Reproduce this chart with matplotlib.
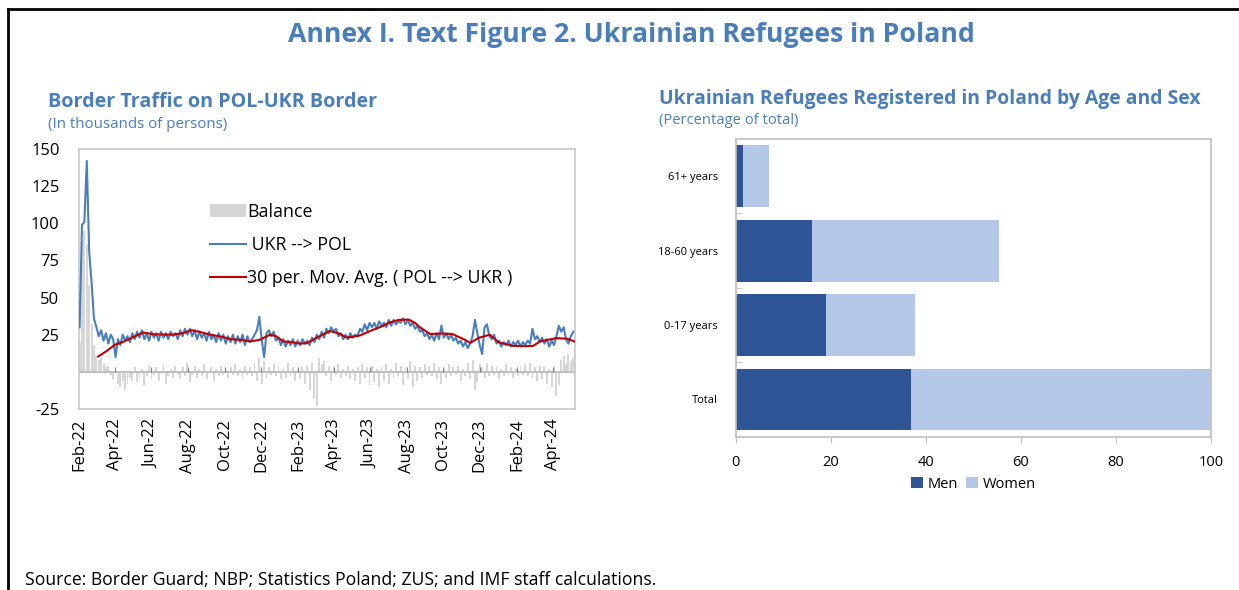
import datetime as dt
import matplotlib
matplotlib.use("Agg")
import matplotlib.pyplot as plt
import matplotlib.dates as mdates
from matplotlib.lines import Line2D
from matplotlib.patches import Patch

plt.rcParams['font.family'] = ['Open Sans', 'DejaVu Sans']

BLUE_TITLE = '#4A7EBB'

# ---- Border traffic (thousands of persons), one value every 4 days from 24 Feb 2022
start = dt.date(2022, 2, 24)
step_days = 4

ukr_pol = [
    30, 99, 101, 142, 81, 60, 36, 30, 24, 28,
    21, 26, 19, 25, 22, 10, 22, 18, 25, 21,
    24, 20, 26, 22, 27, 23, 28, 22, 26, 21,
    27, 23, 26, 21, 27, 23, 26, 22, 27, 24,
    26, 22, 28, 24, 29, 25, 29, 24, 28, 22,
    27, 23, 26, 21, 27, 22, 25, 20, 26, 21,
    25, 19, 24, 20, 25, 19, 24, 20, 25, 18,
    24, 20, 22, 25, 28, 37, 22, 10, 26, 28,
    24, 27, 21, 23, 18, 22, 17, 21, 18, 22,
    17, 21, 18, 22, 19, 21, 18, 23, 20, 25,
    22, 27, 23, 29, 26, 30, 27, 29, 24, 26,
    22, 25, 22, 26, 23, 25, 24, 29, 27, 32,
    28, 33, 30, 33, 29, 34, 31, 33, 30, 35,
    31, 35, 32, 34, 33, 36, 32, 35, 31, 33,
    29, 31, 27, 28, 24, 26, 22, 25, 21, 26,
    22, 31, 23, 26, 22, 25, 21, 23, 19, 21,
    17, 20, 16, 19, 24, 35, 26, 18, 12, 30,
    32, 24, 22, 25, 19, 21, 17, 20, 18, 21,
    17, 20, 18, 21, 17, 20, 18, 21, 19, 29,
    22, 24, 20, 23, 19, 22, 17, 21, 18, 24,
    31, 27, 30, 22, 19, 24, 27,
]

balance = [
    20, 88, 95, 86, 58, 32, 18, 11, 8, 9,
    5, 3, 4, -2, -5, 2, -8, -10, -6, -12,
    -8, -4,
    -6, 3, -7, -4, 2, -9, -3, 4, -5, -2,
    3, -6, -1, 5, -8, -3, 2, -4, 4, -2,
    -5, 3, -3, 6, -7, -2, 4, -4, 2, -3,
    5, -5, -1, 3, -6, 2, -3, 4, -2, 1,
    -4, 3, -2, 5, -3, 2, -5, 4, -2, 3,
    -3, 6, -6, 9, -8, 7, -4, 3, -2, 5,
    -3, 4, -5, 2, -4, 6, -3, 3, -6, 2,
    -5, 3, -8, 4, -12, 6, -18, -23, 9, 5,
    7, -3, 4, -6, 3, -2, 5, -4, 2, -3,
    4, -5, 2, -6, 3, -8, 5, -4, 3, -9,
    4, -7, 2, -10, 3, -6, 5, -8, 2, -4,
    6, -3, 4, -9, 3, -5, 7, -10, 4, -6,
    3, -4, 5, -2, 4, -3, 6, -5, 3, -8,
    2, -4, 5, -3, 3, -2, 4, -6, 2, -3,
    6, -5, 8, -12, -7, 5, 3, -4, 6, -3,
    4, -2, 3, -5, 2, -3, 5, -2, 3, -4,
    2, -3, 4, -2, 5, -3, 6, -4, 3, -6,
    4, -5, 3, -8, 2, -10, 4, -16, -9, 8,
    11, 5, 12, 7, 9,
]

# 30-period moving average of POL --> UKR (day offset from start, value)
ma_day = [31, 45, 59, 72, 85, 106, 123, 155, 172, 187, 200, 218, 239, 252,
          270, 285, 300, 318, 328, 340, 354, 368, 379, 396, 418, 435, 446,
          468, 488, 507, 518, 533, 549, 560, 568, 585, 603, 622, 641, 652,
          667, 685, 699, 723, 744, 757, 769, 796, 814, 827]
ma_val = [10.3, 14, 18.3, 20, 22.5, 26.5, 25.3, 25, 26, 28, 27, 25, 23.5, 22,
          21.5, 20.5, 21.5, 25, 24, 20.5, 20, 19, 19.3, 23, 27.5, 25.5, 23,
          24.5, 28, 31, 33.3, 35, 35.2, 33, 30, 25.5, 25.8, 25.5, 22, 19.5,
          23, 25, 20, 17.5, 17.3, 17.5, 20.5, 22.7, 22.3, 20.3]

yticks_left = [150, 125, 100, 75, 50, 25, -25]

# ---- Refugees registered by age and sex (percent of total)
groups = ['Total', '0-17 years', '18-60 years', '61+ years']
men = [36.8, 19.1, 16.1, 1.6]
women = [63.2, 18.6, 39.2, 5.4]

# ---------------------------------------------------------------------------
fig = plt.figure(figsize=(12.39, 5.90), dpi=100)

# outer frame lines (top and left)
fig.add_artist(Line2D([8 / 1239, 1], [1 - 9 / 590, 1 - 9 / 590], color='black', lw=2))
fig.add_artist(Line2D([8 / 1239, 8 / 1239], [0, 1 - 9 / 590], color='black', lw=2))

fig.text(631 / 1239, 1 - 35 / 590, 'Annex I. Text Figure 2. Ukrainian Refugees in Poland',
         ha='center', va='center', fontsize=19.2, fontweight='bold', color=BLUE_TITLE)

fig.text(48 / 1239, 1 - 102 / 590, 'Border Traffic on POL-UKR Border', ha='left', va='center',
         fontsize=14.2, fontweight='bold', color=BLUE_TITLE)
fig.text(48 / 1239, 1 - 125 / 590, '(In thousands of persons)', ha='left', va='center',
         fontsize=10.9, color=BLUE_TITLE)
fig.text(659 / 1239, 1 - 99 / 590, 'Ukrainian Refugees Registered in Poland by Age and Sex',
         ha='left', va='center', fontsize=13.95, fontweight='bold', color=BLUE_TITLE)
fig.text(659 / 1239, 1 - 121 / 590, '(Percentage of total)', ha='left', va='center',
         fontsize=10.6, color=BLUE_TITLE)

fig.text(25 / 1239, 1 - 580 / 590,
         'Source: Border Guard; NBP; Statistics Poland; ZUS; and IMF staff calculations.',
         ha='left', va='center', fontsize=12.7, color='black')

# ---- left panel
ax = fig.add_axes([79 / 1239, 1 - 409 / 590, 496 / 1239, 260 / 590])
dates = [start + dt.timedelta(days=step_days * i) for i in range(len(ukr_pol))]
bal_dates = [start + dt.timedelta(days=step_days * i) for i in range(len(balance))]
ma_dates = [start + dt.timedelta(days=d) for d in ma_day]

ax.bar(bal_dates, balance, width=3.2, color='#D6D6D6', linewidth=0, zorder=1)
ax.axhline(0, color='#BFBFBF', lw=1.5, zorder=2)
ax.plot(dates, ukr_pol, color='#4A7EBB', lw=1.5, zorder=3)
ax.plot(ma_dates, ma_val, color='#C00000', lw=1.5, zorder=4)

tick_dates = []
y, m = 2022, 2
while (y, m) <= (2024, 4):
    tick_dates.append(dt.date(y, m, 24))
    m += 2
    if m > 12:
        m -= 12
        y += 1
ax.vlines(tick_dates[1:], 0, 3, color='#808080', lw=0.8, zorder=2)

ax.set_xlim(start - dt.timedelta(days=1), dt.date(2024, 5, 31))
ax.set_ylim(-25, 150)
ax.set_xticks(tick_dates)
ax.xaxis.set_major_formatter(mdates.DateFormatter('%b-%y'))
ax.set_yticks(yticks_left)
ax.set_yticklabels([str(v) for v in yticks_left])
ax.tick_params(axis='y', length=0, pad=14, labelsize=12)
ax.tick_params(axis='x', length=0, pad=7, labelsize=12, labelrotation=90)
for s in ax.spines.values():
    s.set_color('#C8C8C8')
    s.set_linewidth(1.2)

handles = [Patch(facecolor='#D6D6D6', edgecolor='none'),
           Line2D([], [], color='#4A7EBB', lw=1.5),
           Line2D([], [], color='#C00000', lw=1.5)]
labels = ['Balance', ' UKR --> POL', '30 per. Mov. Avg. ( POL --> UKR )']
ax.legend(handles, labels, loc='upper left', bbox_to_anchor=(0.25, 0.82), frameon=False,
          fontsize=12.8, handlelength=2.0, handletextpad=0.1, labelspacing=0.86,
          borderaxespad=0)

# ---- right panel
bx = fig.add_axes([735.7 / 1239, 1 - 436.7 / 590, 475.3 / 1239, 297.7 / 590])
ypos = list(range(len(groups)))
bx.barh(ypos, men, height=0.83, color='#2F5597', label='Men')
bx.barh(ypos, women, left=men, height=0.83, color='#B4C7E7', label='Women')
bx.set_xlim(0, 100)
bx.set_ylim(-0.5, len(groups) - 0.5)
bx.set_xticks(range(0, 101, 20))
bx.set_yticks(ypos)
bx.set_yticklabels(groups)
bx.set_yticks([0.5, 1.5, 2.5], minor=True)
bx.tick_params(axis='y', which='major', length=0, pad=13, labelsize=8)
bx.tick_params(axis='y', which='minor', length=4, direction='in', color='#BFBFBF')
bx.tick_params(axis='x', length=4, color='#BFBFBF', labelsize=10.5, pad=9)
for s in bx.spines.values():
    s.set_color('#BFBFBF')
    s.set_linewidth(1.2)
bx.legend(loc='upper center', bbox_to_anchor=(0.5, -0.115), ncol=2, frameon=False,
          fontsize=10.5, handlelength=0.8, handleheight=0.8, handletextpad=0.3,
          columnspacing=0.6, borderaxespad=0)

fig.savefig('out.png', dpi=100, facecolor='white')
